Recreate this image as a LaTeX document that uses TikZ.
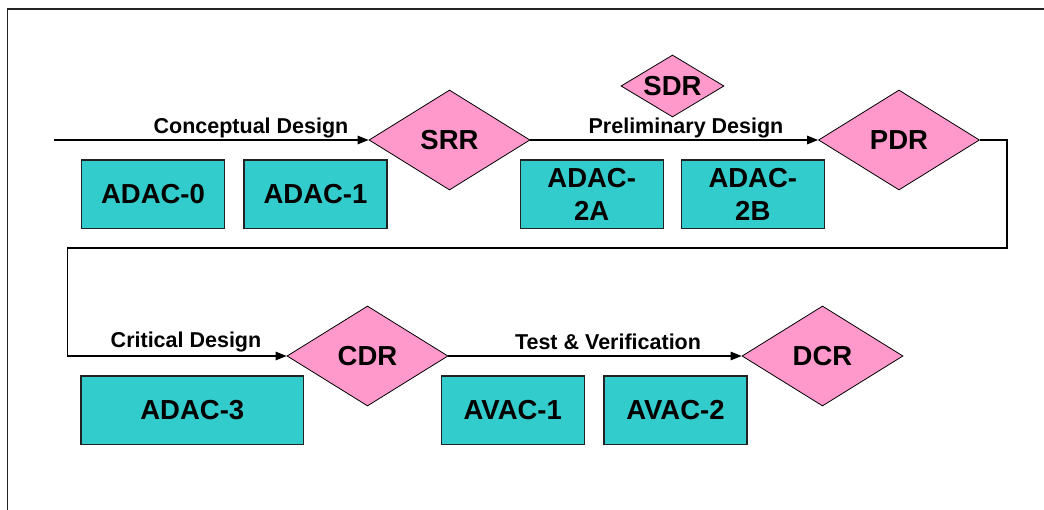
\documentclass[tikz,border=0pt]{standalone}
\usepackage{fontspec}
\setmainfont{Liberation Sans}
\usetikzlibrary{shapes.geometric,arrows.meta}
\definecolor{phasebox}{HTML}{33CCCC}
\definecolor{reviewfill}{HTML}{FF99CC}
\definecolor{edge}{HTML}{222222}

\begin{document}
\begin{tikzpicture}[x=1pt,y=-1pt,
  box/.style={draw=edge,line width=1.3pt,fill=phasebox,minimum width=143pt,
    minimum height=68.5pt,inner sep=0pt,align=center,
    font=\bfseries\fontsize{27.5}{32.5}\selectfont},
  gate/.style={diamond,draw=black,line width=0.8pt,fill=reviewfill,inner sep=0pt,
    shape aspect=1.6,minimum width=161pt,minimum height=100pt,
    font=\bfseries\fontsize{27.5}{32}\selectfont},
  flow/.style={draw=black,line width=1.3pt},
  arr/.style={flow,-{Triangle[length=11pt,width=8.5pt]}},
  lbl/.style={anchor=base,inner sep=0pt,font=\bfseries\fontsize{21.5}{24}\selectfont}]
\useasboundingbox (0,0) rectangle (1044,510);

% outer frame (open to the right and bottom)
\draw[draw=edge,line width=1.8pt] (7.5,511) -- (7.5,9.3) -- (1045,9.3);

% review gates
\node[gate] (srr) at (449.5,140) {SRR};
\node[gate] (pdr) at (899,140) {PDR};
\node[gate] (cdr) at (367.5,356) {CDR};
\node[gate] (dcr) at (822.5,356) {DCR};
\node[gate,shape aspect=1.66,minimum width=103pt,minimum height=62pt] (sdr) at (672.5,86) {SDR};

% phase activities
\node[box] (adac0) at (153,194.3) {ADAC-0};
\node[box] (adac1) at (315.5,194.3) {ADAC-1};
\node[box] (adac2a) at (591.7,194.3) {ADAC-\\2A};
\node[box] (adac2b) at (752.8,194.3) {ADAC-\\2B};
\node[box,minimum width=222.5pt] (adac3) at (192.3,410.3) {ADAC-3};
\node[box] (avac1) at (512.8,410.3) {AVAC-1};
\node[box] (avac2) at (675.5,410.3) {AVAC-2};

% flow line through the phases
\coordinate (start) at (54,140);
\coordinate (turnA) at (1007,140);
\coordinate (turnB) at (1007,248);
\coordinate (turnC) at (67.5,248);
\coordinate (turnD) at (67.5,356);

\draw[arr] (start) -- (srr.west);
\draw[arr] (srr.east) -- (pdr.west);
\draw[arr] (pdr.east) -- (turnA) -- (turnB) -- (turnC) -- (turnD) -- (cdr.west);
\draw[arr] (cdr.east) -- (dcr.west);

% phase labels
\node[lbl] (lconc) at (251,133.3) {Conceptual Design};
\node[lbl] (lprel) at (686,133.3) {Preliminary Design};
\node[lbl] (lcrit) at (186,347.5) {Critical Design};
\node[lbl] (ltest) at (608,349.5) {Test \& Verification};
\end{tikzpicture}
\end{document}
